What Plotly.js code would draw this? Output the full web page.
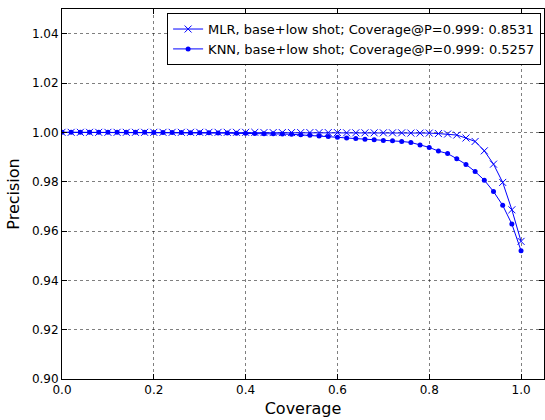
<!DOCTYPE html>
<html>
<head>
<meta charset="utf-8">
<script src="https://cdn.plot.ly/plotly-3.0.1.min.js"></script>
<style>html,body{margin:0;padding:0;background:#fff;}#chart{width:545px;height:420px;}</style>
</head>
<body>
<div id="chart"></div>
<script>
const coverage = [0.00,0.02,0.04,0.06,0.08,0.10,0.12,0.14,0.16,0.18,0.20,0.22,0.24,0.26,0.28,0.30,0.32,0.34,0.36,0.38,0.40,0.42,0.44,0.46,0.48,0.50,0.52,0.54,0.56,0.58,0.60,0.62,0.64,0.66,0.68,0.70,0.72,0.74,0.76,0.78,0.80,0.82,0.84,0.86,0.88,0.90,0.92,0.94,0.96,0.98,1.00];
const mlrPrecision = [1.0000,1.0000,1.0000,1.0000,1.0000,1.0000,1.0000,1.0000,1.0000,1.0000,1.0000,1.0000,1.0000,1.0000,1.0000,1.0000,1.0000,1.0000,1.0000,1.0000,1.0000,1.0000,0.9999,0.9999,0.9999,0.9999,0.9999,0.9999,0.9999,0.9999,0.9999,0.9998,0.9998,0.9998,0.9998,0.9998,0.9998,0.9998,0.9997,0.9997,0.9997,0.9995,0.9993,0.9989,0.9977,0.9963,0.9925,0.9871,0.9797,0.9686,0.9558];
const knnPrecision = [1.0000,1.0000,1.0000,1.0000,1.0000,1.0000,1.0000,1.0000,1.0000,1.0000,0.9999,0.9999,0.9999,0.9999,0.9998,0.9998,0.9998,0.9997,0.9997,0.9996,0.9996,0.9995,0.9994,0.9994,0.9993,0.9992,0.9990,0.9988,0.9985,0.9983,0.9980,0.9977,0.9975,0.9972,0.9970,0.9967,0.9966,0.9963,0.9959,0.9949,0.9939,0.9924,0.9914,0.9893,0.9870,0.9841,0.9806,0.9760,0.9704,0.9628,0.9520];
const seriesNames = ["MLR, base+low shot; Coverage@P=0.999: 0.8531", "KNN, base+low shot; Coverage@P=0.999: 0.5257"];
const xTicks = [0.0,0.2,0.4,0.6,0.8,1.0];
const yTicks = [0.90,0.92,0.94,0.96,0.98,1.00,1.02,1.04];

const traces = [
  {x: coverage, y: mlrPrecision, name: seriesNames[0], type: 'scatter', mode: 'lines+markers',
   line: {color: '#0000ff', width: 1}, marker: {symbol: 'x-thin-open', size: 7, color: '#0000ff', line: {color: 'rgba(90,90,255,0.9)', width: 1}}},
  {x: coverage, y: knnPrecision, name: seriesNames[1], type: 'scatter', mode: 'lines+markers',
   line: {color: '#0000ff', width: 1}, marker: {symbol: 'circle', size: 5, color: '#0000ff'}}
];

const axisCommon = {showline: true, linecolor: '#000', linewidth: 1, mirror: 'ticks', ticks: 'inside', ticklen: 5, tickcolor: '#000',
  showgrid: true, gridcolor: 'rgba(0,0,0,0.5)', griddash: 'dot', gridwidth: 1, zeroline: false,
  tickfont: {family: 'DejaVu Sans', size: 12, color: '#000'}};

const layout = {
  width: 545, height: 420,
  margin: {l: 62, r: 1, t: 9, b: 41},
  paper_bgcolor: '#fff', plot_bgcolor: '#fff',
  font: {family: 'DejaVu Sans', color: '#000'},
  xaxis: Object.assign({}, axisCommon, {range: [0, 1.05], tickvals: xTicks, ticktext: xTicks.map(v => v.toFixed(1)),
    title: {text: 'Coverage', font: {size: 16, family: 'DejaVu Sans'}, standoff: 6}}),
  yaxis: Object.assign({}, axisCommon, {range: [0.90, 1.05], tickvals: yTicks, ticktext: yTicks.map(v => v.toFixed(2)),
    title: {text: 'Precision', font: {size: 16, family: 'DejaVu Sans'}, standoff: 8}}),
  legend: {x: 0.994, y: 0.989, xanchor: 'right', yanchor: 'top', bgcolor: '#fff', bordercolor: '#000', borderwidth: 1,
    font: {family: 'DejaVu Sans', size: 13, color: '#000'}, tracegroupgap: 0, itemwidth: 30},
  showlegend: true
};

Plotly.newPlot('chart', traces, layout, {displayModeBar: false, staticPlot: true});
</script>
</body>
</html>
